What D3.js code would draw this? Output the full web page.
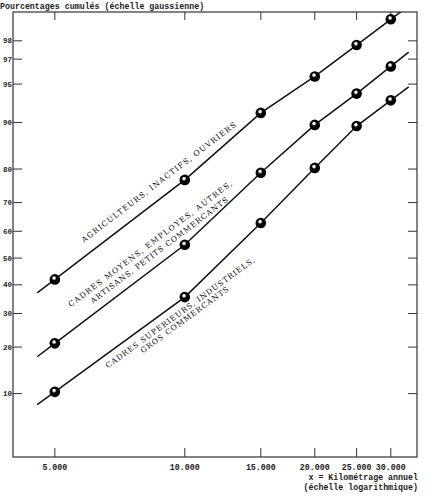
<!DOCTYPE html>
<html>
<head>
<meta charset="utf-8">
<script src="https://cdn.jsdelivr.net/npm/d3@7"></script>
<style>
  body { margin: 0; background: #fff; }
  .mono { font-family: "Liberation Mono", "DejaVu Sans Mono", monospace; font-weight: bold; fill: #222; }
  .lab { font-family: "DejaVu Serif", "Liberation Serif", serif; fill: #111; }
</style>
</head>
<body>
<div class="chartContainer"></div>
<script>
// kilometres per year (x, log scale)
var kilometrage = [5000, 10000, 15000, 20000, 25000, 30000];
var xTickLabels = ["5.000", "10.000", "15.000", "20.000", "25.000", "30.000"];

// cumulated percentages (y, gaussian scale)
var agriculteurs = [42, 77, 91.5, 95.7, 97.8, 98.8];
var cadresMoyens = [21, 55, 79, 89.6, 94, 96.5];
var cadresSup = [10.3, 35.6, 63, 80.3, 89.4, 93.2];

var yTicks = [10, 20, 30, 40, 50, 60, 70, 80, 90, 95, 97, 98];

var seriesNames = [
    ["AGRICULTEURS, INACTIFS, OUVRIERS"],
    ["CADRES MOYENS, EMPLOYES, AUTRES,", "ARTISANS, PETITS COMMERCANTS"],
    ["CADRES SUPERIEURS, INDUSTRIELS,", "GROS COMMERCANTS"]
];

var series = [agriculteurs, cadresMoyens, cadresSup];

// inverse of the normal distribution (Acklam)
function probit(p) {
    var a = [-3.969683028665376e+01, 2.209460984245205e+02, -2.759285104469687e+02, 1.383577518672690e+02, -3.066479806614716e+01, 2.506628277459239e+00];
    var b = [-5.447609879822406e+01, 1.615858368580409e+02, -1.556989798598866e+02, 6.680131188771972e+01, -1.328068155288572e+01];
    var c = [-7.784894002430293e-03, -3.223964580411365e-01, -2.400758277161838e+00, -2.549732539343734e+00, 4.374664141464968e+00, 2.938163982698783e+00];
    var d = [7.784695709041462e-03, 3.224671290700398e-01, 2.445134137142996e+00, 3.754408661907416e+00];
    var q, r;
    if (p < 0.02425) {
        q = Math.sqrt(-2 * Math.log(p));
        return (((((c[0]*q+c[1])*q+c[2])*q+c[3])*q+c[4])*q+c[5]) / ((((d[0]*q+d[1])*q+d[2])*q+d[3])*q+1);
    }
    if (p > 1 - 0.02425) {
        q = Math.sqrt(-2 * Math.log(1 - p));
        return -(((((c[0]*q+c[1])*q+c[2])*q+c[3])*q+c[4])*q+c[5]) / ((((d[0]*q+d[1])*q+d[2])*q+d[3])*q+1);
    }
    q = p - 0.5;
    r = q * q;
    return (((((a[0]*r+a[1])*r+a[2])*r+a[3])*r+a[4])*r+a[5])*q / (((((b[0]*r+b[1])*r+b[2])*r+b[3])*r+b[4])*r+1);
}

var plotLeft = 13, plotRight = 417, plotTop = 12, plotBottom = 457;

var x = d3.scaleLog().domain([4000, 34500]).range([plotLeft, plotRight]);
var z = d3.scaleLinear().domain([probit(0.03), probit(0.99)]).range([plotBottom, plotTop]);
function y(p) { return z(probit(p / 100)); }

var svg = d3.select(".chartContainer")
    .append("svg")
    .attr("width", 447)
    .attr("height", 504);

var defs = svg.append("defs");
var grad = defs.append("radialGradient")
    .attr("id", "ball")
    .attr("cx", "50%").attr("cy", "50%")
    .attr("fx", "40%").attr("fy", "32%")
    .attr("r", "55%");
grad.append("stop").attr("offset", "0%").attr("stop-color", "#fff");
grad.append("stop").attr("offset", "20%").attr("stop-color", "#eee");
grad.append("stop").attr("offset", "40%").attr("stop-color", "#000");
grad.append("stop").attr("offset", "100%").attr("stop-color", "#000");

defs.append("clipPath").attr("id", "plotClip")
    .append("rect")
    .attr("x", plotLeft).attr("y", plotTop)
    .attr("width", plotRight - plotLeft).attr("height", plotBottom - plotTop);

// title
svg.append("text")
    .attr("class", "mono")
    .attr("x", 0)
    .attr("y", 8.5)
    .attr("font-size", 8.3)
    .text("Pourcentages cumulés (échelle gaussienne)");

// frame
svg.append("rect")
    .attr("x", plotLeft).attr("y", plotTop)
    .attr("width", plotRight - plotLeft).attr("height", plotBottom - plotTop)
    .attr("fill", "none")
    .attr("stroke", "#333")
    .attr("stroke-width", 1.2);

// y ticks left and right
svg.selectAll(".ytickL")
    .data(yTicks)
    .enter()
    .append("line")
    .attr("x1", plotLeft).attr("x2", plotLeft + 9)
    .attr("y1", function (d) { return y(d); })
    .attr("y2", function (d) { return y(d); })
    .attr("stroke", "#333").attr("stroke-width", 1);

svg.selectAll(".ytickR")
    .data(yTicks)
    .enter()
    .append("line")
    .attr("x1", plotRight - 9).attr("x2", plotRight)
    .attr("y1", function (d) { return y(d); })
    .attr("y2", function (d) { return y(d); })
    .attr("stroke", "#333").attr("stroke-width", 1);

svg.selectAll(".ylab")
    .data(yTicks)
    .enter()
    .append("text")
    .attr("class", "mono")
    .attr("font-size", 7.5)
    .attr("text-anchor", "end")
    .attr("x", plotLeft - 1)
    .attr("y", function (d) { return y(d) + 2.6; })
    .text(function (d) { return d; });

// x ticks bottom and top
svg.selectAll(".xtickB")
    .data(kilometrage)
    .enter()
    .append("line")
    .attr("x1", function (d) { return x(d); })
    .attr("x2", function (d) { return x(d); })
    .attr("y1", plotBottom - 9).attr("y2", plotBottom)
    .attr("stroke", "#333").attr("stroke-width", 1);

svg.selectAll(".xtickT")
    .data(kilometrage)
    .enter()
    .append("line")
    .attr("x1", function (d) { return x(d); })
    .attr("x2", function (d) { return x(d); })
    .attr("y1", plotTop).attr("y2", plotTop + 8)
    .attr("stroke", "#333").attr("stroke-width", 1);

svg.selectAll(".xlab")
    .data(kilometrage)
    .enter()
    .append("text")
    .attr("class", "mono")
    .attr("font-size", 8.3)
    .attr("text-anchor", "middle")
    .attr("x", function (d) { return x(d); })
    .attr("y", 469.5)
    .text(function (d, i) { return xTickLabels[i]; });

svg.append("text")
    .attr("class", "mono")
    .attr("font-size", 8.3)
    .attr("text-anchor", "end")
    .attr("x", plotRight + 1)
    .attr("y", 479.5)
    .text("x = Kilométrage annuel");

svg.append("text")
    .attr("class", "mono")
    .attr("font-size", 8.3)
    .attr("text-anchor", "end")
    .attr("x", plotRight + 1)
    .attr("y", 489.5)
    .text("(échelle logarithmique)");

// lines: through the points, extended at both ends
var lineStartKm = 4550, lineEndKm = 33000;

function extend(p, q, xNew) {
    var s = (q[1] - p[1]) / (q[0] - p[0]);
    return [xNew, p[1] + s * (xNew - p[0])];
}

var line = d3.line();
var plot = svg.append("g").attr("clip-path", "url(#plotClip)");

series.forEach(function (vals) {
    var pts = vals.map(function (v, i) { return [x(kilometrage[i]), y(v)]; });
    var n = pts.length;
    var all = [extend(pts[0], pts[1], x(lineStartKm))]
        .concat(pts)
        .concat([extend(pts[n - 2], pts[n - 1], x(lineEndKm))]);
    plot.append("path")
        .attr("d", line(all))
        .attr("fill", "none")
        .attr("stroke", "#111")
        .attr("stroke-width", 1.5);
});

// labels, written along the first segment of each line
var labelLayout = [
    [{ along: 45.6, off: 11.4, len: 192 }],
    [{ along: 34.5, off: 19, len: 203 }, { along: 54.5, off: 8.5, len: 170 }],
    [{ along: 56.7, off: -12.5, len: 182 }, { along: 93.7, off: -20.8, len: 107 }]
];

series.forEach(function (vals, si) {
    var x0 = x(kilometrage[0]), y0 = y(vals[0]);
    var x1 = x(kilometrage[1]), y1 = y(vals[1]);
    var ang = Math.atan2(y1 - y0, x1 - x0) * 180 / Math.PI;
    var g = svg.append("g")
        .attr("transform", "translate(" + x0 + "," + y0 + ") rotate(" + ang + ")");
    g.selectAll("text")
        .data(seriesNames[si])
        .enter()
        .append("text")
        .attr("class", "lab")
        .attr("font-size", 7.6)
        .attr("x", function (d, i) { return labelLayout[si][i].along; })
        .attr("y", function (d, i) { return -labelLayout[si][i].off; })
        .attr("textLength", function (d, i) { return labelLayout[si][i].len; })
        .attr("lengthAdjust", "spacing")
        .text(function (d) { return d; });
});

// points
series.forEach(function (vals) {
    svg.append("g")
        .selectAll("circle")
        .data(vals)
        .enter()
        .append("circle")
        .attr("cx", function (d, i) { return x(kilometrage[i]); })
        .attr("cy", function (d) { return y(d); })
        .attr("r", 5.3)
        .attr("fill", "url(#ball)");
});
</script>
</body>
</html>
